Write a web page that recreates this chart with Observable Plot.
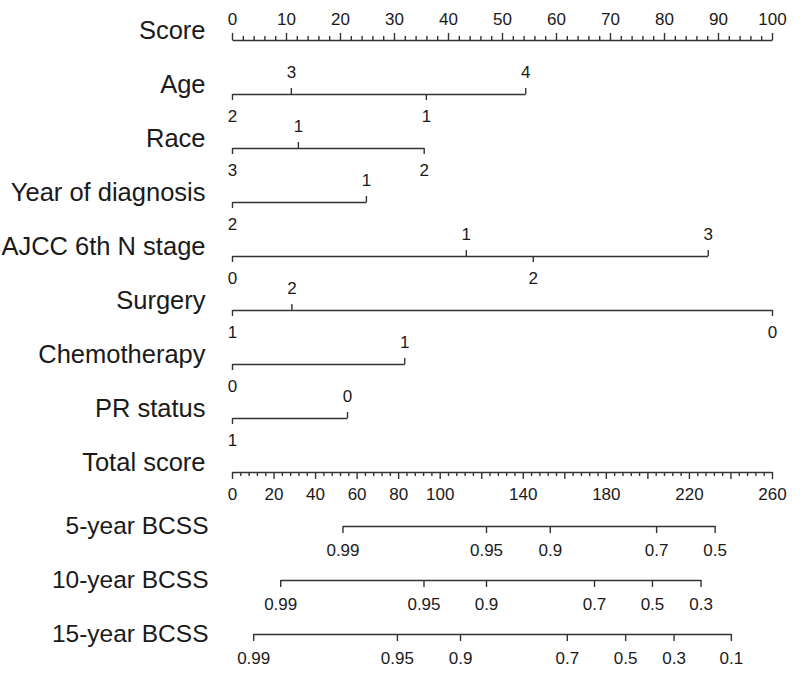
<!DOCTYPE html>
<html><head><meta charset="utf-8">
<script src="https://cdn.jsdelivr.net/npm/d3@7"></script>
<script src="https://cdn.jsdelivr.net/npm/@observablehq/plot@0.6"></script>
<style>body{margin:0;background:#fff;} #chart{width:800px;height:675px;}</style>
</head><body><div id="chart"></div>
<script>
// ---- data ----
const rows = ["Score","Age","Race","Year of diagnosis","AJCC 6th N stage","Surgery",
  "Chemotherapy","PR status","Total score","5-year BCSS","10-year BCSS","15-year BCSS"];

const scoreMajor = [0,10,20,30,40,50,60,70,80,90,100];
const scoreMinorStep = 2;

const ageLevels = ["2","3","1","4"];
const agePoints = [0, 10.9, 35.9, 54.3];
const raceLevels = ["3","1","2"];
const racePoints = [0, 12.2, 35.5];
const yearLevels = ["2","1"];
const yearPoints = [0, 24.8];
const ajccLevels = ["0","1","2","3"];
const ajccPoints = [0, 43.3, 55.7, 88.1];
const surgeryLevels = ["1","2","0"];
const surgeryPoints = [0, 11.0, 100];
const chemoLevels = ["0","1"];
const chemoPoints = [0, 31.9];
const prLevels = ["1","0"];
const prPoints = [0, 21.3];

const totalMax = 260;
const totalMajor = [0,20,40,60,80,100,120,140,160,180,200,220,240,260];
const totalLabels = [0,20,40,60,80,100,140,180,220,260];
const totalMinorStep = 4;

const bcss5Labels = ["0.99","0.95","0.9","0.7","0.5"];
const bcss5Points = [53.2, 122.3, 153.0, 204.2, 232.4];
const bcss10Labels = ["0.99","0.95","0.9","0.7","0.5","0.3"];
const bcss10Points = [23.2, 92.2, 122.3, 174.3, 202.2, 225.6];
const bcss15Labels = ["0.99","0.95","0.9","0.7","0.5","0.3","0.1"];
const bcss15Points = [10.2, 79.4, 109.8, 161.2, 189.3, 212.6, 240.2];

// ---- build ----
const rowGap = 54;          // pixels between rows
const pxU = 1 / rowGap;     // y units per pixel
const ri = name => rows.indexOf(name);
const toScore = tp => tp * 100 / totalMax;

const lines = [], ticks = [], labels = [];

// Score axis: ticks up, labels above
lines.push({row: ri("Score"), x1: 0, x2: 100});
d3.range(0, 100 + 1e-9, scoreMinorStep).forEach(v => {
  const major = scoreMajor.includes(v);
  ticks.push({row: ri("Score"), x: v, len: major ? -7 : -4});
});
scoreMajor.forEach(v => labels.push({row: ri("Score"), x: v, text: String(v), dy: -21}));

// Variable axes
const vars = [
  ["Age", ageLevels, agePoints], ["Race", raceLevels, racePoints],
  ["Year of diagnosis", yearLevels, yearPoints], ["AJCC 6th N stage", ajccLevels, ajccPoints],
  ["Surgery", surgeryLevels, surgeryPoints], ["Chemotherapy", chemoLevels, chemoPoints],
  ["PR status", prLevels, prPoints]
];
vars.forEach(([name, lv, pts]) => {
  const r = ri(name);
  lines.push({row: r, x1: d3.min(pts), x2: d3.max(pts)});
  const order = d3.range(pts.length).sort((a, b) => pts[a] - pts[b]);
  order.forEach((k, j) => {
    const below = j % 2 === 0;
    ticks.push({row: r, x: pts[k], len: below ? 6 : -6});
    labels.push({row: r, x: pts[k], text: lv[k], dy: below ? 22 : -22});
  });
});

// Total score axis: ticks down, labels below
lines.push({row: ri("Total score"), x1: 0, x2: 100});
d3.range(0, totalMax + 1e-9, totalMinorStep).forEach(v => {
  const major = totalMajor.includes(v);
  ticks.push({row: ri("Total score"), x: toScore(v), len: major ? 7 : 4});
});
totalLabels.forEach(v => labels.push({row: ri("Total score"), x: toScore(v), text: String(v), dy: 22}));

// BCSS axes
[["5-year BCSS", bcss5Labels, bcss5Points], ["10-year BCSS", bcss10Labels, bcss10Points],
 ["15-year BCSS", bcss15Labels, bcss15Points]].forEach(([name, lv, pts]) => {
  const r = ri(name);
  lines.push({row: r, x1: toScore(d3.min(pts)), x2: toScore(d3.max(pts))});
  pts.forEach((p, k) => {
    ticks.push({row: r, x: toScore(p), len: 7});
    labels.push({row: r, x: toScore(p), text: lv[k], dy: 23});
  });
});

const lineColor = "#333333";
const textColor = "#1a1a1a";
const font = "'Liberation Sans', Arial, Helvetica, sans-serif";
const tickFont = 17;

const labelsAbove = labels.filter(d => d.dy < 0);
const labelsBelow = labels.filter(d => d.dy > 0);

const rowsTop = rows.map((name, i) => ({name, i})).filter(d => d.i < ri("5-year BCSS"));
const rowsBottom = rows.map((name, i) => ({name, i})).filter(d => d.i >= ri("5-year BCSS"));

const chart = Plot.plot({
  width: 800,
  height: 675,
  marginLeft: 232,
  marginRight: 28,
  marginTop: 0,
  marginBottom: 0,
  style: {fontFamily: font, background: "#fff", overflow: "visible"},
  x: {domain: [0, 100], axis: null},
  y: {type: "linear", domain: [-40 * pxU, (675 - 40) * pxU], range: [0, 675], axis: null},
  marks: [
    Plot.link(lines, {x1: "x1", x2: "x2", y1: "row", y2: "row", stroke: lineColor, strokeWidth: 1.4}),
    Plot.ruleX(ticks, {x: "x", y1: "row", y2: d => d.row + d.len * pxU, stroke: lineColor, strokeWidth: 1.4}),
    Plot.text(labelsAbove.filter(d => d.row === ri("Score")), {x: "x", y: "row", text: "text", dy: -21, fontSize: tickFont, fill: textColor}),
    Plot.text(labelsAbove.filter(d => d.row !== ri("Score")), {x: "x", y: "row", text: "text", dy: -22, fontSize: tickFont, fill: textColor}),
    Plot.text(labelsBelow.filter(d => d.row < ri("5-year BCSS")), {x: "x", y: "row", text: "text", dy: 22, fontSize: tickFont, fill: textColor}),
    Plot.text(labelsBelow.filter(d => d.row >= ri("5-year BCSS")), {x: "x", y: "row", text: "text", dy: 24, fontSize: tickFont, fill: textColor}),
    Plot.text(rowsTop, {x: 0, y: "i", text: "name", dx: -27, dy: -10, textAnchor: "end", fontSize: 25.5, fill: textColor}),
    Plot.text(rowsBottom, {x: 0, y: "i", text: "name", dx: -24, dy: 0, textAnchor: "end", fontSize: 24.5, fill: textColor})
  ]
});
document.getElementById("chart").appendChild(chart);
</script>
</body></html>
